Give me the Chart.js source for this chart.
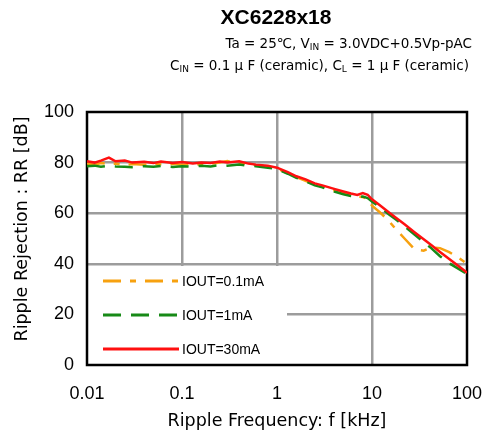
<!DOCTYPE html>
<html>
<head>
<meta charset="utf-8">
<script src="https://cdn.jsdelivr.net/npm/chart.js@4/dist/chart.umd.min.js"></script>
<style>
html, body { margin: 0; padding: 0; background: #fff; }
</style>
</head>
<body>
<canvas id="myChart" width="489" height="434"></canvas>
<script>
// ripple frequency, kHz
const freqs = [0.01, 0.012, 0.014, 0.017, 0.02, 0.025, 0.03, 0.04, 0.05, 0.06, 0.08,
  0.1, 0.13, 0.16, 0.2, 0.25, 0.3, 0.4, 0.5, 0.6, 0.8,
  1, 1.3, 1.6, 2, 2.5, 3, 4, 5, 6, 7, 8, 9,
  10, 12, 15, 18, 22, 28, 35, 42, 52, 65, 80, 100];

// ripple rejection, dB
const rr01mA = [79.6, 79.2, 79.8, 79.4, 79.6, 79.0, 79.4, 79.2, 79.6, 79.3, 79.5,
  79.2, 79.5, 79.2, 79.6, 80.0, 80.6, 79.6, 79.4, 79.0, 78.4,
  77.6, 75.8, 74.3, 72.8, 71.2, 70.5, 69.0, 67.8, 67.0, 66.6, 66.4, 65.6,
  63.0, 60.5, 57.0, 53.5, 50.0, 45.8, 45.2, 46.4, 46.2, 44.6, 42.6, 40.0];
const rr1mA = [78.6, 78.8, 78.4, 78.8, 78.5, 78.4, 78.2, 78.6, 78.4, 78.7, 78.3,
  78.6, 78.4, 78.8, 78.5, 79.0, 78.8, 79.2, 78.8, 78.6, 78.0,
  77.4, 75.6, 74.0, 72.6, 71.0, 70.2, 68.6, 67.5, 66.8, 66.4, 66.6, 66.0,
  64.6, 62.5, 59.6, 57.4, 54.8, 51.6, 48.6, 46.2, 43.0, 40.2, 38.2, 36.0];
const rr30mA = [80.5, 80.0, 80.8, 82.0, 80.5, 80.8, 80.0, 80.3, 79.8, 80.4, 79.8,
  80.2, 79.6, 80.0, 79.8, 80.4, 80.0, 80.5, 79.6, 79.2, 78.8,
  78.0, 76.2, 74.6, 73.4, 71.8, 71.0, 69.6, 68.6, 67.8, 67.2, 68.0, 67.3,
  65.5, 63.2, 60.4, 58.1, 55.6, 52.5, 49.7, 47.4, 44.7, 41.9, 39.3, 36.5];

const seriesNames = ["IOUT=0.1mA", "IOUT=1mA", "IOUT=30mA"];
const xTicks = [0.01, 0.1, 1, 10, 100];
const xTickLabels = ["0.01", "0.1", "1", "10", "100"];
const yTicks = [0, 20, 40, 60, 80, 100];

const FONT = "'Liberation Sans', Arial, sans-serif";
const WIDE = "'DejaVu Sans', sans-serif";

const toPts = arr => freqs.map((f, i) => ({ x: f, y: arr[i] }));

// text with subscripts, right aligned
function drawParts(ctx, parts, xRight, y) {
  let w = 0;
  parts.forEach(p => {
    ctx.font = (p[1] ? "9px " : "13.5px ") + WIDE;
    w += ctx.measureText(p[0]).width;
  });
  let x = xRight - w;
  parts.forEach(p => {
    ctx.font = (p[1] ? "9px " : "13.5px ") + WIDE;
    ctx.fillText(p[0], x, p[1] ? y + 4 : y);
    x += ctx.measureText(p[0]).width;
  });
}

const decorPlugin = {
  id: 'decor',
  beforeDatasetsDraw(chart) {
    const ctx = chart.ctx;
    const a = chart.chartArea;
    ctx.save();
    // legend box covering grid
    ctx.fillStyle = '#fff';
    ctx.fillRect(a.left + 1, a.bottom - 99, 199, 98);
    chart.data.datasets.forEach((ds, i) => {
      const y = a.bottom - 84 + i * 34;
      ctx.beginPath();
      ctx.strokeStyle = ds.borderColor;
      ctx.lineWidth = 3;
      ctx.setLineDash(ds.borderDash || []);
      ctx.moveTo(a.left + 16, y);
      ctx.lineTo(a.left + 92, y);
      ctx.stroke();
      ctx.setLineDash([]);
      ctx.fillStyle = '#000';
      ctx.font = "14px " + FONT;
      ctx.textBaseline = 'middle';
      ctx.textAlign = 'left';
      ctx.fillText(seriesNames[i], a.left + 95, y + 1);
    });
    // frame
    ctx.strokeStyle = '#000';
    ctx.lineWidth = 2.5;
    ctx.strokeRect(a.left, a.top, a.right - a.left, a.bottom - a.top);
    ctx.restore();
  },
  afterDraw(chart) {
    const ctx = chart.ctx;
    const a = chart.chartArea;
    ctx.save();
    ctx.fillStyle = '#000';
    ctx.textBaseline = 'middle';
    ctx.textAlign = 'center';
    ctx.font = "bold 21px " + FONT;
    ctx.fillText("XC6228x18", 276, 18);
    ctx.textAlign = 'left';
    drawParts(ctx, [["Ta = 25\u2103, V"], ["IN", 1], [" = 3.0VDC+0.5Vp-pAC"]], 472, 44);
    drawParts(ctx, [["C"], ["IN", 1], [" = 0.1 \u03bc F (ceramic), C"], ["L", 1], [" = 1 \u03bc F (ceramic)"]], 469, 66);
    // axis titles
    ctx.textAlign = 'center';
    ctx.font = "17.5px " + WIDE;
    ctx.fillText("Ripple Frequency: f [kHz]", 277, 421);
    ctx.translate(22, 229);
    ctx.rotate(-Math.PI / 2);
    ctx.fillText("Ripple Rejection : RR [dB]", 0, 0);
    ctx.restore();
  }
};

const gridColor = edgeVals => c =>
  edgeVals.includes(c.tick.value) ? 'rgba(0,0,0,0)' : '#9c9c9c';

new Chart(document.getElementById('myChart'), {
  type: 'line',
  data: {
    datasets: [{
      label: seriesNames[0],
      data: toPts(rr01mA),
      borderColor: '#f7a10f',
      borderWidth: 2.5,
      borderDash: [18, 9, 6, 9],
      pointRadius: 0,
      order: 3
    }, {
      label: seriesNames[1],
      data: toPts(rr1mA),
      borderColor: '#178a17',
      borderWidth: 2.5,
      borderDash: [18, 10],
      pointRadius: 0,
      order: 2
    }, {
      label: seriesNames[2],
      data: toPts(rr30mA),
      borderColor: '#ff1010',
      borderWidth: 2.5,
      pointRadius: 0,
      order: 1
    }]
  },
  options: {
    responsive: false,
    animation: false,
    layout: { padding: { top: 112, right: 22, left: 0, bottom: 0 } },
    plugins: { legend: { display: false }, tooltip: { enabled: false } },
    scales: {
      x: {
        type: 'logarithmic',
        min: 0.01,
        max: 100,
        afterBuildTicks: s => { s.ticks = xTicks.map(v => ({ value: v })); },
        afterFit: s => { s.height = 69; s.paddingLeft = 0; s.paddingRight = 0; },
        ticks: {
          callback: (v, i) => xTickLabels[i],
          autoSkip: false,
          maxRotation: 0,
          padding: 18,
          color: '#000',
          font: { size: 18, family: FONT }
        },
        grid: { color: gridColor([0.01, 100]), lineWidth: 2.5, drawTicks: false },
        border: { display: false }
      },
      y: {
        min: 0,
        max: 100,
        afterBuildTicks: s => { s.ticks = yTicks.map(v => ({ value: v })); },
        afterFit: s => { s.width = 87; },
        ticks: {
          padding: 13,
          color: '#000',
          font: { size: 18, family: FONT }
        },
        grid: { color: gridColor([0, 100]), lineWidth: 2.5, drawTicks: false },
        border: { display: false }
      }
    }
  },
  plugins: [decorPlugin]
});
</script>
</body>
</html>
